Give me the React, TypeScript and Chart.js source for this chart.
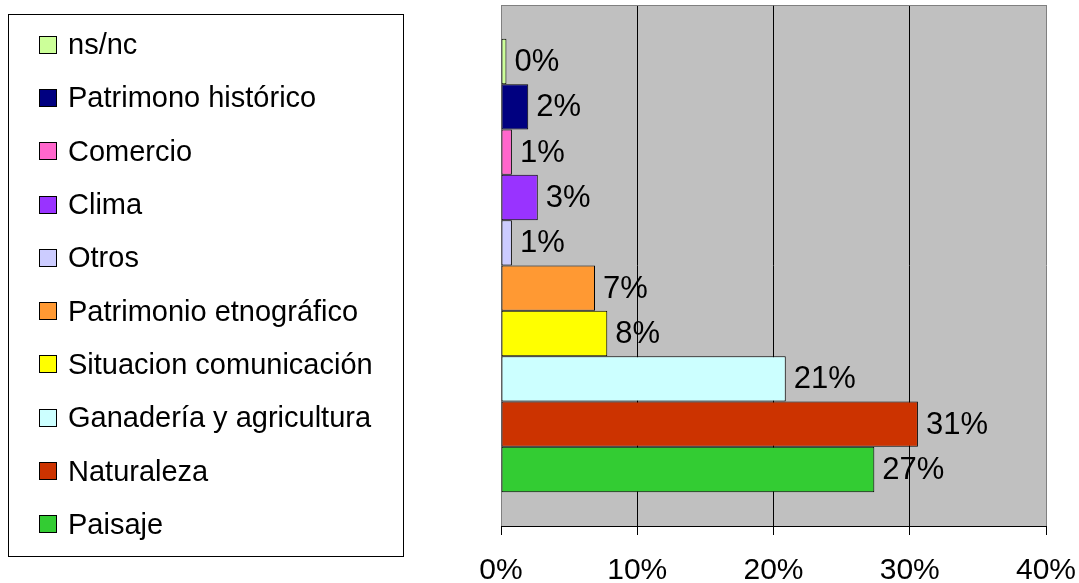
import React, { useEffect, useRef } from "react";
import { Chart, registerables } from "chart.js";

Chart.register(...registerables);

const categories = ["Respuestas"];
const seriesNames = [
  "ns/nc",
  "Patrimono histórico",
  "Comercio",
  "Clima",
  "Otros",
  "Patrimonio etnográfico",
  "Situacion comunicación",
  "Ganadería y agricultura",
  "Naturaleza",
  "Paisaje",
];
const seriesValues = [0.4, 2.0, 0.8, 2.7, 0.8, 6.9, 7.8, 20.9, 30.6, 27.4];
const seriesColors = [
  "#CCFF99",
  "#000080",
  "#FF66CC",
  "#9933FF",
  "#CCCCFF",
  "#FF9933",
  "#FFFF00",
  "#CCFFFF",
  "#CC3300",
  "#33CC33",
];
const xTicks = [0, 10, 20, 30, 40];

const FONT = "'Liberation Sans', Arial, Helvetica, sans-serif";

const plotBackground = {
  id: "plotBackground",
  beforeDraw(chart: any) {
    const { ctx, chartArea } = chart;
    ctx.save();
    ctx.fillStyle = "#C0C0C0";
    ctx.fillRect(chartArea.left, chartArea.top, chartArea.right - chartArea.left, chartArea.bottom - chartArea.top);
    ctx.restore();
  },
  afterDraw(chart: any) {
    const { ctx, chartArea } = chart;
    ctx.save();
    ctx.strokeStyle = "#808080";
    ctx.lineWidth = 1;
    ctx.beginPath();
    ctx.moveTo(chartArea.left, chartArea.top + 0.5);
    ctx.lineTo(chartArea.right, chartArea.top + 0.5);
    ctx.stroke();
    ctx.restore();
  },
};

const valueLabels = {
  id: "valueLabels",
  afterDatasetsDraw(chart: any) {
    const { ctx } = chart;
    ctx.save();
    ctx.font = `31px ${FONT}`;
    ctx.fillStyle = "#000";
    ctx.textAlign = "left";
    ctx.textBaseline = "middle";
    chart.data.datasets.forEach((ds: any, i: number) => {
      const meta = chart.getDatasetMeta(i);
      const el = meta.data[0];
      if (!el) return;
      const v = ds.data[0] as number;
      ctx.fillText(`${Math.round(v)}%`, el.x + 8, el.y + 1);
    });
    ctx.restore();
  },
};

export default function App() {
  const canvasRef = useRef<HTMLCanvasElement>(null);

  useEffect(() => {
    if (!canvasRef.current) return;
    const chart = new Chart(canvasRef.current, {
      type: "bar",
      data: {
        labels: categories,
        datasets: seriesNames.map((name, i) => ({
          label: name,
          data: [seriesValues[i]],
          backgroundColor: seriesColors[i],
          borderColor: "#000",
          borderWidth: 1,
          borderSkipped: false,
          barPercentage: 1,
          categoryPercentage: 0.87,
        })),
      },
      options: {
        indexAxis: "y",
        animation: false,
        responsive: true,
        maintainAspectRatio: false,
        layout: { padding: { left: 501, right: 33, top: 5, bottom: 0 } },
        plugins: {
          legend: { display: false },
          tooltip: { enabled: false },
        },
        scales: {
          y: { display: false },
          x: {
            min: 0,
            max: 40,
            afterBuildTicks(scale: any) {
              scale.ticks = xTicks.map((v) => ({ value: v }));
            },
            afterFit(scale: any) {
              scale.height = 57;
              scale.paddingLeft = 0;
              scale.paddingRight = 0;
            },
            ticks: {
              callback: (v: any) => `${v}%`,
              font: { size: 30, family: FONT },
              color: "#000",
              padding: 18,
            },
            grid: {
              color: (c: any) => (c.tick && (c.tick.value === 0 || c.tick.value === 40) ? "#808080" : "#000"),
              tickColor: "#000",
              tickLength: 9,
              lineWidth: 1,
            },
            border: { color: "#000", width: 1 },
          },
        },
      },
      plugins: [plotBackground, valueLabels],
    });
    return () => chart.destroy();
  }, []);

  return (
    <div style={{ position: "fixed", left: 0, top: 0, width: 1079, height: 583, background: "#fff" }}>
      <canvas ref={canvasRef} />
      <div
        style={{
          position: "absolute",
          left: 8,
          top: 14,
          width: 394,
          height: 538,
          border: "1px solid #000",
          paddingTop: 3,
          boxSizing: "content-box",
          fontFamily: FONT,
          fontSize: 29,
          color: "#000",
        }}
      >
        {seriesNames.map((name, i) => (
          <div key={name} style={{ height: 53.3, display: "flex", alignItems: "center", whiteSpace: "nowrap" }}>
            <span
              style={{
                display: "inline-block",
                width: 16,
                height: 16,
                marginLeft: 30,
                marginRight: 11,
                background: seriesColors[i],
                border: "1px solid #000",
              }}
            />
            <span>{name}</span>
          </div>
        ))}
      </div>
    </div>
  );
}
